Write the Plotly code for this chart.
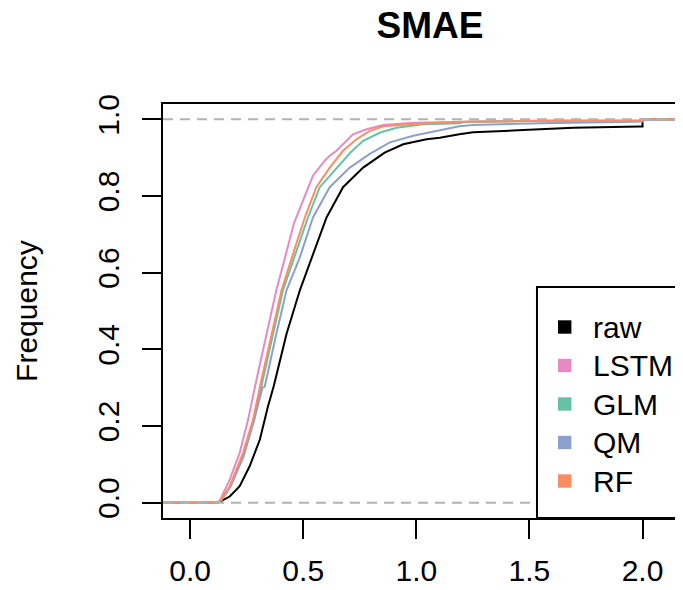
import plotly.graph_objects as go

# ECDF curves (x = SMAE, y = cumulative frequency)
series_names = ["raw", "LSTM", "GLM", "QM", "RF"]
series_colors = ["#000000", "#E78AC3", "#66C2A5", "#8DA0CB", "#FC8D62"]

raw_x = [-0.2, 0.122, 0.153, 0.175, 0.219, 0.263, 0.308, 0.344, 0.37, 0.426, 0.485, 0.54,
         0.603, 0.676, 0.765, 0.86, 0.942, 1.045, 1.104, 1.19, 1.251, 1.473, 1.694, 1.99,
         2.0, 2.0, 2.3]
raw_y = [0.0, 0.0, 0.009, 0.016, 0.043, 0.095, 0.164, 0.251, 0.305, 0.44, 0.554, 0.645,
         0.744, 0.823, 0.874, 0.913, 0.935, 0.948, 0.952, 0.961, 0.966, 0.972, 0.978, 0.981,
         0.981, 1.0, 1.0]

lstm_x = [-0.2, 0.122, 0.13, 0.175, 0.219, 0.256, 0.293, 0.337, 0.381, 0.418, 0.458, 0.499,
          0.543, 0.595, 0.617, 0.647, 0.676, 0.72, 0.78, 0.853, 0.986, 1.2, 1.5, 2.0, 2.0, 2.3]
lstm_y = [0.0, 0.0, 0.004, 0.06, 0.13, 0.216, 0.32, 0.44, 0.554, 0.636, 0.727, 0.788,
          0.853, 0.892, 0.905, 0.918, 0.935, 0.961, 0.974, 0.985, 0.991, 0.993, 0.996, 0.997,
          1.0, 1.0]

glm_x = [-0.2, 0.122, 0.14, 0.178, 0.238, 0.283, 0.321, 0.366, 0.41, 0.458, 0.521, 0.573,
         0.64, 0.71, 0.765, 0.838, 0.912, 1.03, 1.19, 1.22, 1.6, 2.0, 2.0, 2.3]
glm_y = [0.0, 0.0, 0.008, 0.042, 0.13, 0.216, 0.32, 0.44, 0.554, 0.636, 0.744, 0.823,
         0.868, 0.914, 0.944, 0.965, 0.978, 0.987, 0.99, 0.994, 0.996, 0.997, 1.0, 1.0]

qm_x = [-0.2, 0.122, 0.14, 0.18, 0.236, 0.28, 0.32, 0.33, 0.381, 0.426, 0.485, 0.543,
        0.617, 0.706, 0.794, 0.883, 0.986, 1.089, 1.19, 1.251, 1.546, 1.9, 2.0, 2.0, 2.3]
qm_y = [0.0, 0.0, 0.008, 0.045, 0.12, 0.21, 0.3, 0.303, 0.44, 0.554, 0.64, 0.744,
        0.823, 0.874, 0.91, 0.94, 0.957, 0.97, 0.982, 0.985, 0.99, 0.993, 0.994, 1.0, 1.0]

rf_x = [-0.2, 0.122, 0.14, 0.175, 0.234, 0.278, 0.315, 0.359, 0.404, 0.448, 0.507, 0.558,
        0.617, 0.676, 0.735, 0.794, 0.853, 0.986, 1.19, 1.6, 2.0, 2.0, 2.3]
rf_y = [0.0, 0.0, 0.01, 0.043, 0.13, 0.216, 0.32, 0.44, 0.554, 0.636, 0.744, 0.823,
        0.874, 0.918, 0.948, 0.97, 0.982, 0.988, 0.994, 0.996, 0.997, 1.0, 1.0]

x_ticks = [0.0, 0.5, 1.0, 1.5, 2.0]
y_ticks = [0.0, 0.2, 0.4, 0.6, 0.8, 1.0]

FONT = "Liberation Sans, Arial, sans-serif"
# page body has an 8px margin, so the figure is 8px smaller than the window
W, H = 675, 582
PLOT_H = 414

fig = go.Figure()
curves = [(raw_x, raw_y), (lstm_x, lstm_y), (glm_x, glm_y), (qm_x, qm_y), (rf_x, rf_y)]
for (xs, ys), name, color in zip(curves, series_names, series_colors):
    fig.add_trace(go.Scatter(x=xs, y=ys, mode="lines", name=name,
                             line=dict(color=color, width=2), showlegend=False))

# dashed reference lines at 0 and 1 (drawn over the curves, like plot.ecdf)
for h in [0.0, 1.0]:
    fig.add_hline(y=h, line=dict(color="#B3B3B3", width=2, dash="10px,7px"), layer="above")

# legend box drawn by hand (R style filled squares)
fig.add_shape(type="rect", xref="paper", yref="paper", x0=0.7192, x1=1.05, y0=0.0, y1=0.558,
              line=dict(color="black", width=2), fillcolor="white", layer="above")
row_px = [223, 261.5, 300, 338.5, 377]  # row centres, px from top of plot area
for name, color, py in zip(series_names, series_colors, row_px):
    yc = (PLOT_H - py) / PLOT_H
    fig.add_shape(type="rect", xref="paper", yref="paper", x0=0.7596, x1=0.7854,
                  y0=yc - 6.7 / PLOT_H, y1=yc + 6.7 / PLOT_H, line=dict(width=0),
                  fillcolor=color, layer="above")
    fig.add_annotation(text=name, xref="paper", yref="paper", x=0.823, y=yc,
                       xanchor="left", yanchor="middle", showarrow=False,
                       font=dict(size=30, color="black", family=FONT))

fig.update_layout(
    width=W,
    height=H,
    margin=dict(l=155, r=0, t=96, b=H - 96 - PLOT_H),
    plot_bgcolor="white",
    paper_bgcolor="white",
    font=dict(family=FONT, color="black"),
    title=dict(text="<b>SMAE</b>", x=0.5135, xref="paper", xanchor="center",
               y=1 - 17 / H, yref="container", yanchor="middle",
               font=dict(size=37, color="black", family=FONT)),
    xaxis=dict(range=[-0.12, 2.179], tickvals=x_ticks, tickformat=".1f",
               showgrid=False, zeroline=False, showline=True, mirror=True,
               linecolor="black", linewidth=2, ticks="outside", ticklen=19,
               tickwidth=2, tickcolor="black", ticklabelstandoff=6,
               tickfont=dict(size=30, color="black")),
    yaxis=dict(range=[-0.04, 1.04], tickvals=y_ticks, tickformat=".1f",
               showgrid=False, zeroline=False, showline=True, mirror=False,
               linecolor="black", linewidth=2, ticks="outside", ticklen=19,
               tickwidth=2, tickcolor="black", tickangle=-90, ticklabelstandoff=11,
               tickfont=dict(size=30, color="black"),
               title=dict(text="Frequency", standoff=46, font=dict(size=30, color="black"))),
)

fig.write_html("out.html")
